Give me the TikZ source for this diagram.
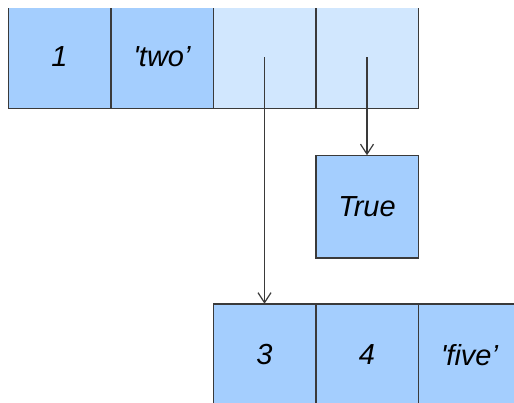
\documentclass[tikz,border=0pt]{standalone}
\usepackage{fontspec}
\setmainfont{Liberation Sans}
\usetikzlibrary{
  arrows.meta,
  positioning
}
\definecolor{cellfull}{HTML}{A4CEFE}
\definecolor{cellempty}{HTML}{D1E7FE}
\definecolor{cellline}{HTML}{3A3A3A}
\tikzset{
  % For all list cells.
  cell/.style={
    draw=cellline,
    line width=1.5pt,
    minimum size=102.5pt,
    inner sep=0pt,
    outer sep=0pt,
    font=\fontsize{29pt}{32pt}\selectfont\itshape},
%
  % For cells that hold a value.
  full cell/.style={
    cell,
    fill=cellfull},
%
  % For cells that hold a reference.
  ref cell/.style={
    cell,
    fill=cellempty},
%
  % For references between cells.
  pointer/.style={
    draw=cellline,
    line width=1.2pt,
    -{Straight Barb[length=10pt,width=13pt,line width=1.2pt]}}
}

\begin{document}
\begin{tikzpicture}
  \useasboundingbox (0,0) rectangle (514pt,-402pt);
  \clip (0,-8pt) rectangle (514pt,-402pt);

  % Outer list.
  \node[full cell] (cell1) at (59.5pt,-57pt) {1};
  \node[full cell, right=0pt of cell1] (cell2) {\textquotesingle two'};
  \node[ref cell, right=0pt of cell2] (cell3) {};
  \node[ref cell, right=0pt of cell3] (cell4) {};

  % Single value.
  \node[full cell, below=47pt of cell4] (true) {True};

  % Inner list.
  \node[full cell, below=46pt of true] (inner4) {4};
  \node[full cell, left=0pt of inner4] (inner3) {3};
  \node[full cell, right=0pt of inner4] (inner5) {\textquotesingle five'};

  \draw[pointer] (cell3.center) -- (inner3.north);
  \draw[pointer] (cell4.center) -- (true.north);
\end{tikzpicture}
\end{document}
